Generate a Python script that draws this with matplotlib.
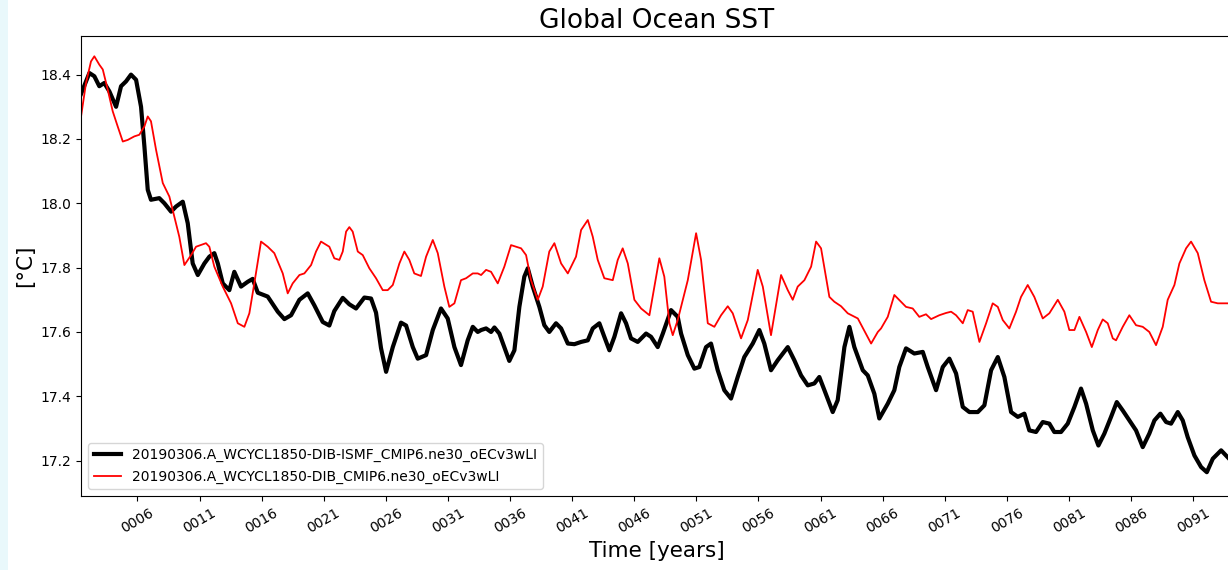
import matplotlib
matplotlib.use("Agg")
import matplotlib.pyplot as plt
from matplotlib.patches import Rectangle

# years since start of run, annual-mean SST (deg C)
years_ismf = [1.46, 2.13, 2.53, 2.93, 3.33, 3.74, 4.28, 4.68, 5.08, 5.48, 5.89, 6.29, 6.56, 6.83, 7.09,
              7.76, 8.17, 8.71, 9.11, 9.65, 10.05, 10.45, 10.86, 11.39, 11.79, 12.19, 12.47, 12.87, 13.40,
              13.80, 14.34, 14.88, 15.28, 15.69, 16.49, 17.30, 17.83, 18.37, 19.04, 19.71, 20.24, 20.92,
              21.45, 21.85, 22.53, 23.06, 23.60, 24.27, 24.81, 25.21, 25.61, 26.02, 26.56, 27.22, 27.63,
              28.17, 28.57, 29.24, 29.78, 30.44, 30.98, 31.52, 32.05, 32.59, 33.00, 33.40, 33.67, 34.07,
              34.47, 34.74, 35.14, 35.54, 35.94, 36.35, 36.75, 37.15, 37.43, 37.83, 38.36, 38.76, 39.16,
              39.70, 40.11, 40.65, 41.18, 41.72, 42.26, 42.66, 43.19, 43.59, 44.00, 44.40, 44.94, 45.34,
              45.74, 46.28, 46.95, 47.35, 47.89, 48.30, 48.96, 49.50, 49.77, 50.31, 50.84, 51.24, 51.78,
              52.18, 52.72, 53.25, 53.79, 54.33, 54.86, 55.54, 56.07, 56.47, 57.01, 57.55, 58.36, 58.89,
              59.43, 59.97, 60.50, 60.90, 61.31, 61.98, 62.38, 62.92, 63.32, 63.72, 64.40, 64.80, 65.33,
              65.73, 66.41, 66.94, 67.34, 67.88, 68.55, 69.23, 69.63, 70.30, 70.84, 71.37, 71.91, 72.45,
              72.98, 73.66, 74.19, 74.73, 75.27, 75.80, 76.34, 76.88, 77.41, 77.81, 78.35, 78.89, 79.42,
              79.82, 80.36, 80.90, 81.44, 81.97, 82.38, 82.92, 83.37, 83.85, 84.39, 84.85, 85.33, 85.86,
              86.40, 86.94, 87.47, 87.88, 88.36, 88.82, 89.22, 89.76, 90.16, 90.56, 91.10, 91.64, 92.10,
              92.58, 93.25, 93.89]
sst_ismf = [18.34, 18.405, 18.395, 18.364, 18.374, 18.348, 18.30, 18.364, 18.379, 18.40, 18.384, 18.30,
            18.177, 18.042, 18.011, 18.016, 18.00, 17.974, 17.99, 18.005, 17.938, 17.813, 17.777, 17.813,
            17.834, 17.845, 17.813, 17.751, 17.73, 17.787, 17.741, 17.756, 17.765, 17.722, 17.71, 17.663,
            17.64, 17.652, 17.70, 17.72, 17.683, 17.631, 17.62, 17.665, 17.706, 17.686, 17.673, 17.707,
            17.704, 17.66, 17.55, 17.476, 17.553, 17.629, 17.62, 17.553, 17.517, 17.528, 17.606, 17.673,
            17.642, 17.553, 17.497, 17.574, 17.616, 17.60, 17.606, 17.611, 17.60, 17.614, 17.595, 17.553,
            17.51, 17.543, 17.678, 17.772, 17.798, 17.741, 17.678, 17.621, 17.60, 17.627, 17.611, 17.564,
            17.562, 17.569, 17.574, 17.611, 17.627, 17.585, 17.543, 17.585, 17.658, 17.627, 17.58, 17.569,
            17.595, 17.585, 17.553, 17.595, 17.668, 17.647, 17.595, 17.528, 17.486, 17.491, 17.553, 17.564,
            17.481, 17.419, 17.393, 17.46, 17.522, 17.564, 17.606, 17.564, 17.481, 17.512, 17.553, 17.512,
            17.465, 17.434, 17.44, 17.46, 17.419, 17.351, 17.388, 17.553, 17.616, 17.553, 17.481, 17.465,
            17.408, 17.331, 17.377, 17.419, 17.491, 17.549, 17.533, 17.538, 17.491, 17.419, 17.491, 17.517,
            17.471, 17.367, 17.351, 17.351, 17.372, 17.481, 17.522, 17.46, 17.351, 17.336, 17.346, 17.294,
            17.289, 17.32, 17.315, 17.289, 17.289, 17.315, 17.367, 17.424, 17.377, 17.294, 17.247, 17.284,
            17.336, 17.382, 17.356, 17.325, 17.294, 17.242, 17.284, 17.325, 17.346, 17.32, 17.315, 17.351,
            17.325, 17.273, 17.216, 17.18, 17.164, 17.206, 17.232, 17.206]

years_ctrl = [1.46, 1.86, 2.26, 2.53, 2.93, 3.21, 3.61, 4.01, 4.41, 4.82, 5.22, 5.75, 6.15, 6.56, 6.83,
              7.09, 7.50, 8.04, 8.57, 8.97, 9.37, 9.78, 10.32, 10.72, 11.52, 11.79, 12.19, 12.87, 13.54,
              14.08, 14.61, 15.01, 15.41, 15.95, 16.49, 17.02, 17.70, 18.10, 18.50, 19.04, 19.44, 19.98,
              20.38, 20.78, 21.45, 21.85, 22.26, 22.53, 22.80, 23.06, 23.33, 23.74, 24.14, 24.67, 25.21,
              25.75, 26.15, 26.56, 27.09, 27.49, 27.89, 28.29, 28.83, 29.24, 29.78, 30.18, 30.71, 31.11,
              31.52, 32.05, 32.46, 33.00, 33.40, 33.67, 34.07, 34.47, 35.01, 35.54, 36.08, 36.89, 37.29,
              37.69, 38.23, 38.63, 39.16, 39.57, 40.11, 40.65, 41.31, 41.72, 42.26, 42.66, 43.06, 43.59,
              44.27, 44.67, 45.07, 45.48, 46.01, 46.55, 47.22, 47.62, 48.02, 48.42, 48.83, 49.10, 49.50,
              49.77, 50.31, 50.98, 51.38, 51.92, 52.45, 52.99, 53.53, 53.93, 54.60, 55.14, 55.94, 56.35,
              57.01, 57.82, 58.36, 58.76, 59.16, 59.70, 60.24, 60.64, 61.04, 61.71, 62.11, 62.65, 63.19,
              64.00, 65.07, 65.61, 65.87, 66.41, 66.94, 67.48, 67.88, 68.42, 68.95, 69.49, 69.90, 70.56,
              71.10, 71.51, 71.91, 72.45, 72.85, 73.25, 73.79, 74.33, 74.86, 75.27, 75.67, 76.20, 76.74,
              77.14, 77.68, 78.21, 78.89, 79.42, 80.10, 80.63, 81.03, 81.44, 81.84, 82.38, 82.84, 83.32,
              83.72, 84.12, 84.53, 84.79, 85.33, 85.86, 86.40, 86.94, 87.47, 88.01, 88.55, 88.95, 89.49,
              89.89, 90.43, 90.83, 91.37, 91.90, 92.44, 92.98, 93.38, 93.89]
sst_ctrl = [18.27, 18.374, 18.441, 18.457, 18.431, 18.416, 18.353, 18.286, 18.239, 18.192, 18.197, 18.208,
            18.213, 18.239, 18.27, 18.255, 18.166, 18.063, 18.021, 17.959, 17.896, 17.808, 17.839, 17.865,
            17.876, 17.865, 17.803, 17.741, 17.689, 17.627, 17.616, 17.658, 17.751, 17.881, 17.865, 17.845,
            17.782, 17.72, 17.751, 17.777, 17.782, 17.808, 17.85, 17.881, 17.865, 17.829, 17.824, 17.85,
            17.912, 17.926, 17.912, 17.85, 17.839, 17.798, 17.767, 17.73, 17.73, 17.746, 17.813, 17.85,
            17.824, 17.782, 17.774, 17.834, 17.886, 17.845, 17.741, 17.678, 17.689, 17.761, 17.767, 17.782,
            17.782, 17.777, 17.793, 17.787, 17.751, 17.803, 17.87, 17.86, 17.839, 17.761, 17.70, 17.741,
            17.85, 17.876, 17.813, 17.782, 17.834, 17.917, 17.948, 17.896, 17.824, 17.767, 17.761, 17.824,
            17.86, 17.813, 17.70, 17.673, 17.652, 17.741, 17.829, 17.772, 17.627, 17.59, 17.637, 17.678,
            17.761, 17.907, 17.824, 17.627, 17.616, 17.652, 17.68, 17.658, 17.58, 17.637, 17.793, 17.741,
            17.59, 17.777, 17.73, 17.70, 17.741, 17.761, 17.803, 17.881, 17.86, 17.709, 17.694, 17.68,
            17.658, 17.642, 17.564, 17.60, 17.611, 17.647, 17.715, 17.694, 17.678, 17.673, 17.647, 17.655,
            17.64, 17.652, 17.659, 17.663, 17.652, 17.627, 17.668, 17.663, 17.569, 17.627, 17.689, 17.678,
            17.637, 17.611, 17.663, 17.709, 17.746, 17.709, 17.642, 17.658, 17.70, 17.663, 17.606, 17.606,
            17.647, 17.60, 17.553, 17.606, 17.639, 17.627, 17.58, 17.574, 17.616, 17.652, 17.621, 17.616,
            17.60, 17.559, 17.616, 17.70, 17.746, 17.813, 17.86, 17.881, 17.845, 17.761, 17.694, 17.689,
            17.689, 17.689]

labels = ['20190306.A_WCYCL1850-DIB-ISMF_CMIP6.ne30_oECv3wLI',
          '20190306.A_WCYCL1850-DIB_CMIP6.ne30_oECv3wLI']
tick_years = list(range(6, 92, 5))

fig = plt.figure(figsize=(12.28, 5.7), dpi=100)
# thin light strip on the left edge of the canvas
fig.patches.append(Rectangle((0, 0), 0.0068, 1, transform=fig.transFigure,
                             facecolor='#e9f8fb', edgecolor='none', zorder=-1))

ax = fig.add_axes([0.066, 0.1298, 0.938, 0.807])
ax.plot(years_ismf, sst_ismf, color='black', lw=3, label=labels[0])
ax.plot(years_ctrl, sst_ctrl, color='red', lw=1.3, label=labels[1])

ax.set_xticks(tick_years)
ax.set_xticklabels(['%04d' % y for y in tick_years], rotation=30)
ax.set_yticks([17.2, 17.4, 17.6, 17.8, 18.0, 18.2, 18.4])
ax.set_xlim(1.46, 94.2)
ax.set_ylim(17.09, 18.52)
ax.tick_params(labelsize=10)

ax.set_title('Global Ocean SST', fontsize=19)
ax.set_xlabel('Time [years]', fontsize=15.5)
ax.set_ylabel('[°C]', fontsize=15.5)
ax.legend(loc='lower left', fontsize=10)

fig.savefig('out.png', dpi=100)
